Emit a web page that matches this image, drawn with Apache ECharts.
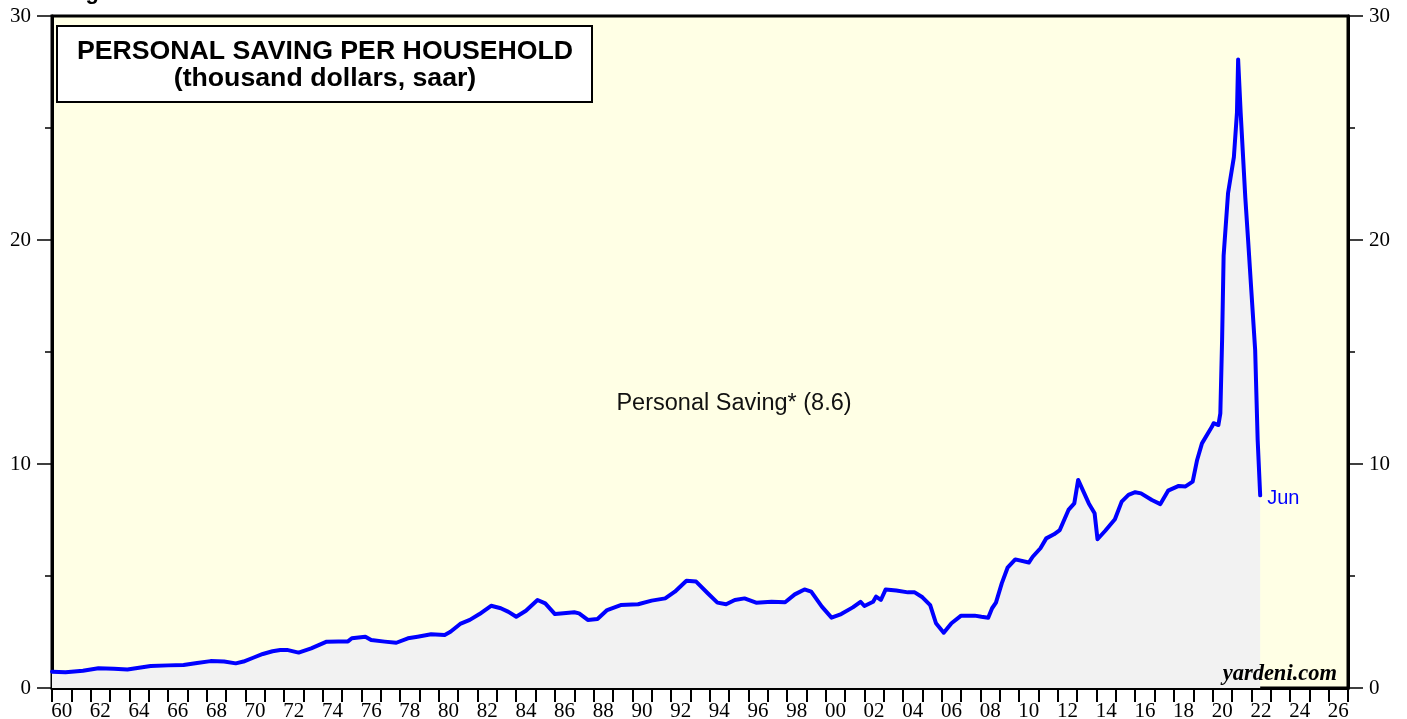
<!DOCTYPE html>
<html>
<head>
<meta charset="utf-8">
<script src="https://cdn.jsdelivr.net/npm/echarts@6/dist/echarts.min.js"></script>
<style>
  html, body { margin: 0; padding: 0; background: #fff; }
  #chart { width: 1407px; height: 719px; }
</style>
</head>
<body>
<div id="chart"></div>
<script>
// year labels under the axis, one category per year (only even ones are shown)
var yearCats = ['60','61','62','63','64','65','66','67','68','69',
                '70','71','72','73','74','75','76','77','78','79',
                '80','81','82','83','84','85','86','87','88','89',
                '90','91','92','93','94','95','96','97','98','99',
                '00','01','02','03','04','05','06','07','08','09',
                '10','11','12','13','14','15','16','17','18','19',
                '20','21','22','23','24','25','26'];

// decimal year and saving per household (thousand $)
var dates = [1960.0, 1960.7, 1961.6, 1962.4, 1963.2, 1963.9, 1965.1, 1966.0, 1966.8, 1967.5,
             1968.2, 1968.9, 1969.5, 1969.9, 1970.4, 1970.9, 1971.4, 1971.8, 1972.15, 1972.75,
             1973.4, 1974.2, 1974.8, 1975.3, 1975.5, 1976.2, 1976.5, 1977.2, 1977.8, 1978.4,
             1978.9, 1979.6, 1980.3, 1980.6, 1981.1, 1981.6, 1982.1, 1982.7, 1983.2, 1983.6,
             1984.0, 1984.5, 1985.1, 1985.5, 1986.0, 1986.3, 1987.0, 1987.25, 1987.7, 1988.2,
             1988.7, 1989.4, 1990.3, 1991.0, 1991.7, 1992.2, 1992.8, 1993.3, 1993.9, 1994.4,
             1994.85, 1995.3, 1995.8, 1996.4, 1997.2, 1997.9, 1998.4, 1998.9, 1999.25, 1999.8,
             2000.3, 2000.8, 2001.4, 2001.8, 2002.0, 2002.45, 2002.6, 2002.85, 2003.1, 2003.65,
             2004.25, 2004.6, 2005.0, 2005.4, 2005.7, 2006.1, 2006.5, 2007.0, 2007.7, 2008.05,
             2008.4, 2008.6, 2008.8, 2009.1, 2009.4, 2009.8, 2010.5, 2010.7, 2011.1, 2011.4,
             2011.8, 2012.1, 2012.55, 2012.85, 2013.05, 2013.6, 2013.9, 2014.05, 2014.45, 2014.95,
             2015.3, 2015.65, 2016.0, 2016.3, 2016.86, 2017.3, 2017.7, 2018.25, 2018.6, 2018.97,
             2019.2, 2019.45, 2019.97, 2020.05, 2020.3, 2020.4, 2020.49, 2020.57, 2020.8, 2021.1,
             2021.26, 2021.32, 2021.45, 2021.69, 2021.85, 2022.0, 2022.2, 2022.33, 2022.46];
var saving = [0.73, 0.70, 0.77, 0.88, 0.86, 0.83, 0.98, 1.01, 1.03, 1.12,
              1.20, 1.18, 1.10, 1.18, 1.35, 1.52, 1.64, 1.70, 1.70, 1.58,
              1.77, 2.07, 2.08, 2.08, 2.22, 2.29, 2.14, 2.07, 2.02, 2.22,
              2.29, 2.40, 2.37, 2.51, 2.86, 3.04, 3.30, 3.67, 3.56, 3.40,
              3.18, 3.45, 3.93, 3.78, 3.30, 3.33, 3.38, 3.33, 3.04, 3.08,
              3.48, 3.70, 3.74, 3.90, 4.00, 4.30, 4.79, 4.75, 4.23, 3.81,
              3.74, 3.93, 4.00, 3.81, 3.85, 3.83, 4.18, 4.40, 4.30, 3.63,
              3.14, 3.30, 3.60, 3.85, 3.66, 3.85, 4.08, 3.93, 4.40, 4.35,
              4.27, 4.27, 4.05, 3.70, 2.89, 2.47, 2.89, 3.23, 3.23, 3.18,
              3.14, 3.56, 3.81, 4.67, 5.37, 5.74, 5.60, 5.86, 6.24, 6.68,
              6.86, 7.05, 7.95, 8.24, 9.29, 8.24, 7.80, 6.64, 7.02, 7.53,
              8.32, 8.62, 8.74, 8.69, 8.39, 8.21, 8.81, 9.02, 9.00, 9.21,
              10.18, 10.92, 11.67, 11.82, 11.74, 12.26, 15.5, 19.3, 22.1, 23.7,
              25.7, 28.06, 25.7, 21.9, 19.8, 17.77, 15.1, 11.07, 8.6];

var yMin = 0, yMax = 30, yStep = 10;

var points = dates.map(function (d, i) { return [d, saving[i]]; });

var serif = '"Liberation Serif", "Times New Roman", serif';
var sans = '"Liberation Sans", Arial, sans-serif';

var chart = echarts.init(document.getElementById('chart'));

function yAxisCfg(pos) {
    return {
        type: 'value',
        position: pos,
        min: yMin,
        max: yMax,
        interval: yStep,
        axisLine: { show: true, lineStyle: { color: '#000', width: 3 } },
        axisTick: { show: true, length: 15, lineStyle: { color: '#000', width: 1.5 } },
        minorTick: { show: true, splitNumber: 2, length: 7, lineStyle: { color: '#000', width: 1.5 } },
        splitLine: { show: false },
        minorSplitLine: { show: false },
        axisLabel: { color: '#000', fontFamily: serif, fontSize: 21, margin: 21 }
    };
}

chart.setOption({
    animation: false,
    grid: {
        left: 52, right: 59, top: 16, bottom: 31,
        outerBoundsMode: 'none',
        containLabel: false,
        show: true,
        backgroundColor: '#FFFFE5',
        borderColor: '#000',
        borderWidth: 3
    },
    xAxis: [
        {
            type: 'category',
            data: yearCats,
            position: 'bottom',
            boundaryGap: true,
            axisLine: { show: true, lineStyle: { color: '#000', width: 3 } },
            axisTick: { show: true, interval: 0, length: 14, lineStyle: { color: '#000', width: 2 } },
            axisLabel: { interval: 1, color: '#000', fontFamily: serif, fontSize: 21, margin: 13 },
            splitLine: { show: false }
        },
        {
            type: 'value',
            min: 1960,
            max: 2027,
            show: false,
            splitLine: { show: false }
        }
    ],
    yAxis: [yAxisCfg('left'), yAxisCfg('right')],
    series: [{
        name: 'Personal Saving',
        type: 'line',
        xAxisIndex: 1,
        yAxisIndex: 0,
        data: points,
        showSymbol: false,
        lineStyle: { color: '#0000FF', width: 4, join: 'round', cap: 'round' },
        itemStyle: { color: '#0000FF' },
        areaStyle: { color: '#F2F2F2', opacity: 1 },
        endLabel: {
            show: true,
            formatter: 'Jun',
            color: '#0000FF',
            fontFamily: sans,
            fontSize: 20,
            distance: 7,
            offset: [0, 3]
        },
        z: 3
    }],
    graphic: [
        {
            type: 'text', left: 66, top: -18, z: 10,
            style: { text: 'Figure 3', font: 'bold 22px ' + sans, fill: '#000' }
        },
        {
            type: 'rect', z: 10,
            shape: { x: 57, y: 26, width: 535, height: 76 },
            style: { fill: '#fff', stroke: '#000', lineWidth: 2 }
        },
        {
            type: 'text', z: 11, x: 325, y: 52,
            style: {
                text: 'PERSONAL SAVING PER HOUSEHOLD',
                font: 'bold 26.7px ' + sans, fill: '#000',
                align: 'center', verticalAlign: 'middle'
            }
        },
        {
            type: 'text', z: 11, x: 325, y: 79,
            style: {
                text: '(thousand dollars, saar)',
                font: 'bold 26.7px ' + sans, fill: '#000',
                align: 'center', verticalAlign: 'middle'
            }
        },
        {
            type: 'text', z: 11, x: 734, y: 404,
            style: {
                text: 'Personal Saving* (8.6)',
                font: '23.5px ' + sans, fill: '#111',
                align: 'center', verticalAlign: 'middle'
            }
        },
        {
            type: 'text', z: 11, x: 1337, y: 674,
            style: {
                text: 'yardeni.com',
                font: 'italic bold 22.5px ' + serif, fill: '#000',
                align: 'right', verticalAlign: 'middle'
            }
        }
    ]
});
</script>
</body>
</html>
